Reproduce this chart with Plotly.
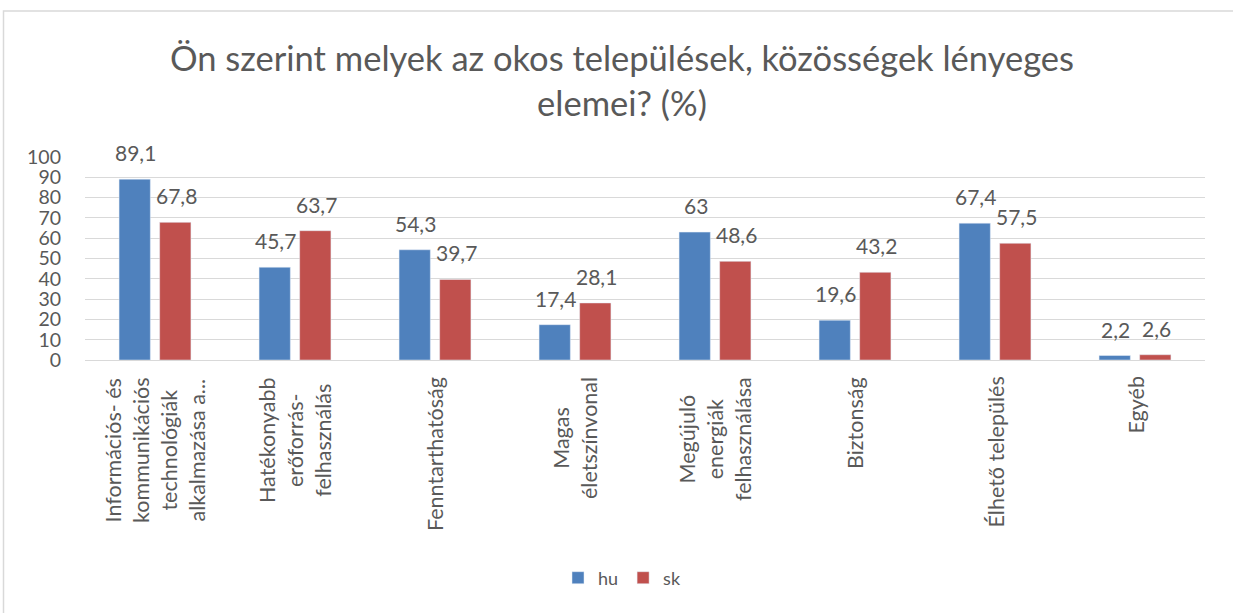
import plotly.graph_objects as go

categories = [
    "Információs- és<br>kommunikációs<br>technológiák<br>alkalmazása a...",
    "Hatékonyabb<br>erőforrás-<br>felhasználás",
    "Fenntarthatóság",
    "Magas<br>életszínvonal",
    "Megújuló<br>energiák<br>felhasználása",
    "Biztonság",
    "Élhető település",
    "Egyéb",
]
hu = [89.1, 45.7, 54.3, 17.4, 63, 19.6, 67.4, 2.2]
sk = [67.8, 63.7, 39.7, 28.1, 48.6, 43.2, 57.5, 2.6]
y_ticks = list(range(0, 101, 10))

FONT = "Lato"
GREY = "#595959"

def fmt(v):
    return ("%g" % v).replace(".", ",")

W, H = 1233, 613
L, R, T, B = 85, 1205, 157, 360
BARGAP, GROUPGAP = 0.42, 0.23

def px_x(p):
    return (p - L) / (R - L)

def px_y(p):
    return (B - p) / (B - T)

fig = go.Figure()
series = (("hu", hu, "#4F81BD"), ("sk", sk, "#C0504D"))
for name, vals, col in series:
    fig.add_trace(go.Bar(name=name, x=categories, y=vals, marker_color=col))

# data labels above bars (slot offset within a group, in pixels)
cat_px = (R - L) / len(categories)
slot_px = cat_px * (1 - BARGAP) / len(series)
annotations = []
for si, (name, vals, col) in enumerate(series):
    shift = (si - (len(series) - 1) / 2) * slot_px
    for c, v in zip(categories, vals):
        annotations.append(dict(x=c, xref="x", y=v, yref="y", text=fmt(v), showarrow=False,
                                xanchor="center", yanchor="bottom", xshift=shift + 1, yshift=12,
                                font=dict(size=21, color=GREY, family=FONT)))

for c in categories:
    annotations.append(dict(x=c, xref="x", y=px_y(375), yref="paper", text=c, textangle=-90,
                            xanchor="center", yanchor="top", align="center", showarrow=False,
                            font=dict(size=21.5, color=GREY, family=FONT)))

fig.update_layout(
    width=W, height=H,
    margin=dict(l=L, r=W - R, t=T, b=H - B),
    plot_bgcolor="white", paper_bgcolor="white",
    font=dict(family=FONT, color=GREY),
    title=dict(text="Ön szerint melyek az okos települések, közösségek lényeges<br>elemei? (%)",
               x=px_x(622), xanchor="center", xref="paper", y=1 - 71 / H, yanchor="middle", yref="container",
               font=dict(size=34.5, color=GREY, family=FONT)),
    barmode="group", bargap=BARGAP, bargroupgap=GROUPGAP,
    showlegend=True,
    legend=dict(orientation="h", x=px_x(622), xanchor="center", y=px_y(578), yanchor="middle",
                font=dict(size=18, color=GREY, family=FONT)),
    xaxis=dict(showticklabels=False, showline=True, linecolor="#D9D9D9", linewidth=1, ticks=""),
    yaxis=dict(range=[0, 100], tickvals=y_ticks, showgrid=True, gridcolor="#D9D9D9",
               tickfont=dict(size=19.5, color=GREY, family=FONT), zeroline=False, ticks="",
               ticklabelstandoff=23),
    annotations=annotations,
    shapes=[dict(type="rect", xref="paper", yref="paper",
                 x0=px_x(3.5), x1=px_x(1240), y0=px_y(620), y1=px_y(11),
                 line=dict(color="#D9D9D9", width=1.5), fillcolor="rgba(0,0,0,0)", layer="below")],
)

fig.write_html("out.html", config={"displayModeBar": False},
               post_script="document.body.style.margin='0';")
